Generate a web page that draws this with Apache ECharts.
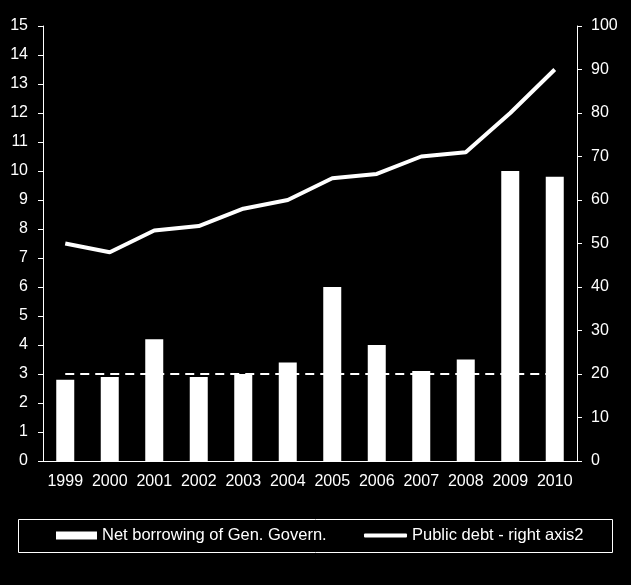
<!DOCTYPE html>
<html>
<head>
<meta charset="utf-8">
<style>
html,body{margin:0;padding:0;background:#000;}
#c{width:631px;height:585px;}
</style>
<script src="https://cdn.jsdelivr.net/npm/echarts@6/dist/echarts.min.js"></script>
</head>
<body>
<div id="c"></div>
<script>
var years = ['1999','2000','2001','2002','2003','2004','2005','2006','2007','2008','2009','2010'];
var netBorrowing = [2.8, 2.9, 4.2, 2.9, 3.0, 3.4, 6.0, 4.0, 3.1, 3.5, 10.0, 9.8];
var publicDebt = [50, 48, 53, 54, 58, 60, 65, 66, 70, 71, 80, 90];
var threshold = [3, 3, 3, 3, 3, 3, 3, 3, 3, 3, 3, 3];
var barName = 'Net borrowing of Gen. Govern.';
var lineName = 'Public debt - right axis2';

var font = '"Liberation Sans", Arial, sans-serif';
var chart = echarts.init(document.getElementById('c'));
chart.setOption({
  backgroundColor: '#000',
  animation: false,
  textStyle: { fontFamily: font },
  grid: { left: 43, right: 54, top: 26, bottom: 124, containLabel: false },
  xAxis: {
    type: 'category',
    data: years,
    axisLine: { lineStyle: { color: '#fff', width: 1 } },
    axisTick: { show: false },
    axisLabel: { color: '#fff', fontSize: 16, margin: 13, fontFamily: font, interval: 0 },
    splitLine: { show: false }
  },
  yAxis: [{
    type: 'value', min: 0, max: 15, interval: 1,
    axisLine: { show: true, lineStyle: { color: '#fff', width: 1 } },
    axisTick: { show: true, length: 5, lineStyle: { color: '#fff' } },
    axisLabel: { color: '#fff', fontSize: 16, margin: 15, fontFamily: font },
    splitLine: { show: false }
  }, {
    type: 'value', min: 0, max: 100, interval: 10, position: 'right',
    axisLine: { show: true, lineStyle: { color: '#fff', width: 1 } },
    axisTick: { show: true, length: 5, lineStyle: { color: '#fff' } },
    axisLabel: { color: '#fff', fontSize: 16, margin: 14, fontFamily: font },
    splitLine: { show: false }
  }],
  legend: [{
    data: [{ name: barName, icon: 'rect' }],
    left: 56, top: 527, padding: 0,
    itemWidth: 41, itemHeight: 8,
    textStyle: { color: '#fff', fontSize: 16.5, lineHeight: 16, fontFamily: font }
  }, {
    data: [{ name: lineName, icon: 'roundRect' }],
    left: 364, top: 527, padding: 0,
    itemWidth: 43, itemHeight: 4,
    textStyle: { color: '#fff', fontSize: 16.5, lineHeight: 16, fontFamily: font }
  }],
  graphic: [{
    type: 'rect',
    shape: { x: 18.5, y: 519.5, width: 594, height: 33 },
    style: { fill: 'none', stroke: '#fff', lineWidth: 1 },
    silent: true
  }],
  series: [{
    name: 'threshold',
    type: 'line',
    data: threshold,
    yAxisIndex: 0,
    z: 1,
    symbol: 'none',
    lineStyle: { color: '#fff', width: 2, type: [9, 6] },
    silent: true
  }, {
    name: barName,
    type: 'bar',
    data: netBorrowing,
    yAxisIndex: 0,
    z: 3,
    barWidth: 18,
    itemStyle: { color: '#fff' }
  }, {
    name: lineName,
    type: 'line',
    data: publicDebt,
    yAxisIndex: 1,
    z: 4,
    symbol: 'none',
    lineStyle: { color: '#fff', width: 4 },
    itemStyle: { color: '#fff' }
  }]
});
</script>
</body>
</html>
